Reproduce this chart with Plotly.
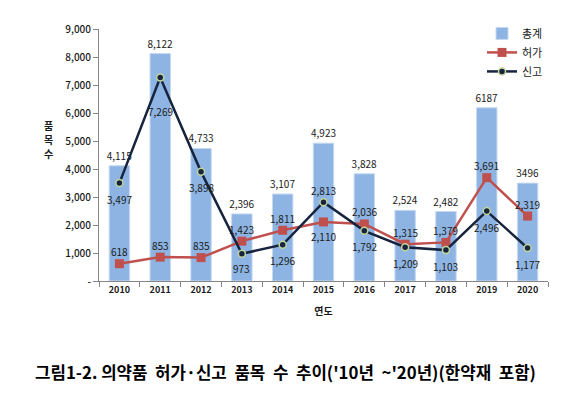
import plotly.graph_objects as go

years = ["2010", "2011", "2012", "2013", "2014", "2015", "2016", "2017", "2018", "2019", "2020"]
total = [4115, 8122, 4733, 2396, 3107, 4923, 3828, 2524, 2482, 6187, 3496]
total_labels = ["4,115", "8,122", "4,733", "2,396", "3,107", "4,923", "3,828", "2,524", "2,482", "6187", "3496"]
permit = [618, 853, 835, 1423, 1811, 2110, 2036, 1315, 1379, 3691, 2319]
report = [3497, 7269, 3898, 973, 1296, 2813, 1792, 1209, 1103, 2496, 1177]
y_ticks = [0, 1000, 2000, 3000, 4000, 5000, 6000, 7000, 8000, 9000]
y_ticktext = ["-"] + [f"{v:,}" for v in y_ticks[1:]]

# label offsets (pixels, + above / - below the point)
permit_shift = [12, 12, 12, 12, 12, -15, 12, 12, 12, 12, 12]
report_shift = [-16, -34, -16, -15, -16, 12, -16, -16, -16, -16, -16]

FONT = "Noto Sans CJK KR"
TXT = "#1a1a1a"

# page body has an 8px default margin; figure is sized/offset to compensate
W, H = 560, 379
L, T, R = 91, 21, 20
PW = W - L - R          # 449
PH = 252
B = H - T - PH

fig = go.Figure()
fig.add_trace(go.Bar(
    x=years, y=total, name="총계",
    marker=dict(color="#8DB4E2", line=dict(color="#C6D9F1", width=1)),
    text=total_labels, textposition="outside", cliponaxis=False, constraintext="none",
    textfont=dict(family=FONT, size=10, color=TXT),
))
fig.add_trace(go.Scatter(
    x=years, y=permit, name="허가", mode="lines+markers",
    line=dict(color="#C0504D", width=2.5),
    marker=dict(symbol="square", size=9, color="#C0504D"),
))
fig.add_trace(go.Scatter(
    x=years, y=report, name="신고", mode="lines+markers",
    line=dict(color="#17243E", width=2.5),
    marker=dict(symbol="circle", size=7, color="#17243E", line=dict(color="#C3D69B", width=1.5)),
))

annotations = []
for i, (v, s) in enumerate(zip(permit, permit_shift)):
    annotations.append(dict(x=i, y=v, yshift=s, text=f"{v:,}", showarrow=False,
                            font=dict(family=FONT, size=10, color=TXT)))
for i, (v, s) in enumerate(zip(report, report_shift)):
    annotations.append(dict(x=i, y=v, yshift=s, text=f"{v:,}", showarrow=False,
                            font=dict(family=FONT, size=10, color=TXT)))
for ch, s in zip(["품", "목", "수"], [14, 0, -14]):
    annotations.append(dict(text=f"<b>{ch}</b>", xref="paper", yref="paper",
                            x=-51 / PW, y=0.56, xanchor="center", yanchor="middle",
                            yshift=s, showarrow=False, font=dict(family=FONT, size=10, color=TXT)))
annotations.append(dict(
    text="<b>그림1-2. 의약품  허가·신고  품목  수  추이('10년  ~'20년)(한약재  포함)</b>",
    xref="paper", yref="paper", x=(285 - 99) / PW, y=-(372 - 281) / PH,
    xanchor="center", yanchor="middle", showarrow=False,
    font=dict(family=FONT, size=16.8, color="#000000")))

fig.update_layout(
    width=W, height=H,
    margin=dict(l=L, r=R, t=T, b=B, autoexpand=False),
    paper_bgcolor="white", plot_bgcolor="white",
    bargap=0.5,
    font=dict(family=FONT, size=10, color=TXT),
    showlegend=True,
    legend=dict(x=1.0, xanchor="right", y=1.04, yanchor="top",
                font=dict(family=FONT, size=11, color=TXT),
                tracegroupgap=0, itemwidth=30, bgcolor="rgba(0,0,0,0)"),
    xaxis=dict(
        type="category", range=[-0.5, len(years) - 0.5],
        showline=True, linecolor="#868686", linewidth=1,
        ticks="outside", tickson="boundaries", ticklen=5, tickcolor="#868686",
        tickfont=dict(family=FONT, size=9, color=TXT, weight=700), showgrid=False,
        title=dict(text="<b>연도</b>", font=dict(family=FONT, size=10, color=TXT), standoff=13),
    ),
    yaxis=dict(
        range=[0, 9000], tickvals=y_ticks, ticktext=y_ticktext,
        showline=True, linecolor="#868686", linewidth=1,
        ticks="outside", ticklen=5, tickcolor="#868686",
        tickfont=dict(family=FONT, size=10, color=TXT, weight=500), showgrid=False, zeroline=False,
    ),
    annotations=annotations,
)

fig.write_html("out.html")
